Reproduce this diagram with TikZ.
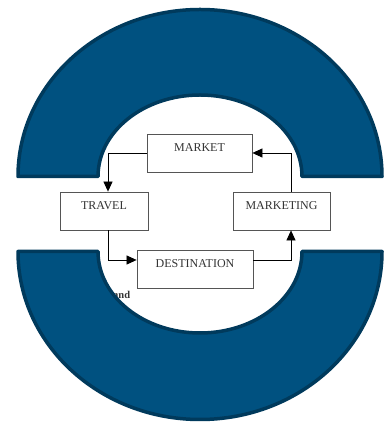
\documentclass[tikz,border=0pt]{standalone}
\usepackage{fontspec}
\setmainfont{Liberation Serif}
\usetikzlibrary{arrows.meta}
\definecolor{ring-blue}{HTML}{005180}
\definecolor{ring-edge}{HTML}{003A5C}
\definecolor{box-grey}{HTML}{555555}
\definecolor{text-grey}{HTML}{333333}
\newlength{\basispx}
\setlength{\basispx}{1pt}

\begin{document}
\begin{tikzpicture}[
    box/.style={minimum height=38\basispx, draw=box-grey, line width=0.8\basispx, text=text-grey,
        inner sep=0pt, text height=17.5\basispx, text depth=20.5\basispx, font=\fontsize{12}{14}\selectfont},
    flow/.style={-{Triangle[length=10pt,width=9pt]}, line width=0.7\basispx, draw=black},
    piece/.style={fill=ring-blue, draw=ring-edge, line width=3.5\basispx, line join=round}]

    \useasboundingbox[fill=white] (0,0) rectangle (385\basispx,427\basispx);

    \draw (199.5\basispx,274\basispx) 
		node[box, minimum width=105\basispx] 
			(Market) {MARKET};

    \draw (104\basispx,216\basispx) 
		node[box, minimum width=88\basispx] 
			(Travel) {TRAVEL};

    \draw (281.5\basispx,216\basispx) 
		node[box, minimum width=97\basispx] 
			(Marketing) {MARKETING};

    \draw (195\basispx,157.5\basispx) 
		node[box, minimum width=116\basispx] 
			(Destination) {DESTINATION};

    \draw (113\basispx,128\basispx) 
		node[anchor=base west, inner sep=0pt, text=text-grey, font=\fontsize{10.5}{12}\selectfont\bfseries] 
			(And) {and};

	\draw[flow] (Market.west) -| ([xshift=4\basispx]Travel.north);
	\draw[flow] ([xshift=4\basispx]Travel.south) |- ([yshift=9.5\basispx]Destination.west);
	\draw[flow] ([yshift=9.5\basispx]Destination.east) -| ([xshift=9.5\basispx]Marketing.south);
	\draw[flow] ([xshift=9.5\basispx]Marketing.north) |- (Market.east);

	% upper half of the ring
	\draw[piece] (18\basispx,250.5\basispx) 
		arc[start angle=180, end angle=0, x radius=182\basispx, y radius=167\basispx] 
		-- (302\basispx,250.5\basispx) 
		arc[start angle=0, end angle=180, x radius=102\basispx, y radius=81.5\basispx] -- cycle;
	% lower half of the ring
	\draw[piece] (18\basispx,175.5\basispx) 
		arc[start angle=180, end angle=360, x radius=182\basispx, y radius=168\basispx] 
		-- (302\basispx,175.5\basispx) 
		arc[start angle=0, end angle=-180, x radius=102\basispx, y radius=81.5\basispx] -- cycle;
\end{tikzpicture}
\end{document}
